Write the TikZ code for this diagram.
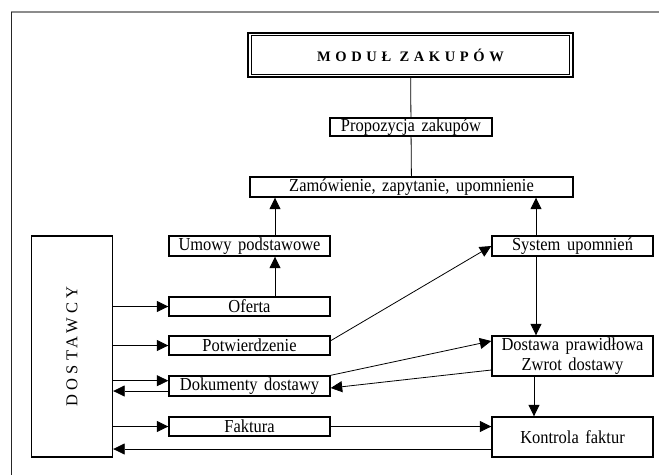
\documentclass[tikz,border=0pt]{standalone}
\usepackage{fontspec}
\setmainfont{Liberation Serif}[FakeStretch=0.9, WordSpace=1.6]
\newfontfamily\titlefont{Liberation Serif}[LetterSpace=32]
\newfontfamily\vertfont{Liberation Serif}[LetterSpace=25]
\usetikzlibrary{arrows.meta}
\tikzset{
  box/.style={draw, line width=1.4pt, inner sep=0pt, minimum height=20pt,
    font=\fontsize{18.3}{19.5}\selectfont},
  wbox/.style={box, minimum width=161pt},
  conn/.style={line width=0.8pt},
  arr/.style={conn, -{Triangle[length=11.5pt,width=11pt]}},
  frameline/.style={line width=1.3pt}
}
\begin{document}
\begin{tikzpicture}[x=1pt,y=-1pt]
\useasboundingbox (0,0) rectangle (659,475);
% frame
\draw[frameline, black!45] (11,12) -- (659,12);
\draw[line width=1pt, black!85] (11,12) -- (11,475);

% title
\node[draw, line width=1.5pt, minimum width=325pt, minimum height=44pt, inner sep=0pt,
  font=\titlefont\bfseries\fontsize{14.5}{16}\selectfont] (mod) at (410.5,55) {MODUŁ ZAKUPÓW};
\draw[line width=0.7pt] ([shift={(4pt,-3pt)}]mod.north west) rectangle ([shift={(-4pt,3pt)}]mod.south east);

\node[box, minimum width=162pt, minimum height=18pt] (prop) at (411,127) {Propozycja zakupów};
\node[box, minimum width=323pt] (zam) at (411.5,187) {Zamówienie, zapytanie, upomnienie};
\node[wbox] (umowy) at (249.5,246) {Umowy podstawowe};
\node[wbox] (sys) at (572.5,246) {System upomnień};
\node[wbox, minimum height=19pt] (oferta) at (249.5,306.5) {Oferta};
\node[wbox, minimum height=19pt] (potw) at (249.5,345.5) {Potwierdzenie};
\node[wbox] (dok) at (249.5,386) {Dokumenty dostawy};
\node[wbox, minimum height=19pt] (fakt) at (249.5,426.5) {Faktura};
\node[wbox, minimum height=40pt, align=center] (dost) at (572.5,356) {Dostawa prawidłowa\\Zwrot dostawy};
\node[wbox, minimum height=40pt] (kontr) at (572.5,437) {Kontrola faktur};
\node[draw, line width=1.4pt, minimum width=81pt, minimum height=221pt] (dostawcy) at (72,346.5) {};
\node[rotate=90, font=\vertfont\fontsize{16.5}{18}\selectfont] (dlabel) at (dostawcy.center) {DOSTAWCY};

% connectors
\draw[conn] (mod) -- (prop);
\draw[conn] (prop) -- (zam);
\draw[arr] ([xshift=25.5pt]umowy.north) -- ([xshift=25.5pt]umowy.north |- zam.south);
\draw[arr] ([xshift=-36.5pt]sys.north) -- ([xshift=-36.5pt]sys.north |- zam.south);
\draw[arr] ([xshift=25.5pt]oferta.north) -- ([xshift=25.5pt]oferta.north |- umowy.south);
\draw[arr] (oferta.west -| dostawcy.east) -- (oferta.west);
\draw[arr] (potw.west -| dostawcy.east) -- (potw.west);
\draw[arr] ([yshift=5.3pt]dok.west -| dostawcy.east) -- ([yshift=5.3pt]dok.west);
\draw[arr] ([yshift=-5pt]dok.west) -- ([yshift=-5pt]dok.west -| dostawcy.east);
\draw[arr] (fakt.west -| dostawcy.east) -- (fakt.west);
\draw[arr] (fakt.east) -- (fakt.east -| kontr.west);
\draw[arr] ([yshift=-12pt]kontr.west) -- ([yshift=-12pt]kontr.west -| dostawcy.east);
\draw[arr] ([yshift=4.8pt]potw.east) -- (sys.west);
\draw[arr] (dok.north east) -- ([yshift=15pt]dost.west);
\draw[arr] ([yshift=-14pt]dost.west) -- ([yshift=-2pt]dok.east);
\draw[arr] ([xshift=-36.5pt]sys.south) -- ([xshift=-36.5pt]sys.south |- dost.north);
\draw[arr] ([xshift=-38.5pt]dost.south) -- ([xshift=-38.5pt]dost.south |- kontr.north);
\end{tikzpicture}
\end{document}
